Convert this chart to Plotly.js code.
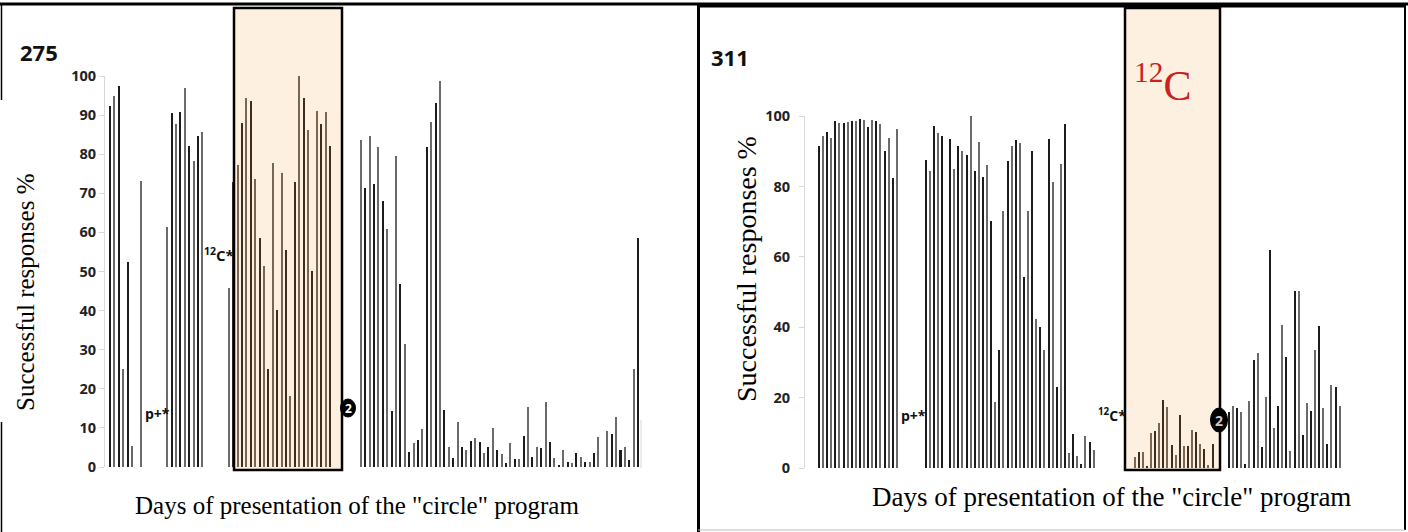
<!DOCTYPE html>
<html><head><meta charset="utf-8">
<script src="https://cdn.plot.ly/plotly-3.0.1.min.js"></script>
<style>html,body{margin:0;padding:0;background:#fff}</style>
</head><body><div id="chart" style="width:1408px;height:532px"></div>
<script>
// Panel "275": one value per day slot (null = no session that day)
const success275 = [
  92.4, 94.8, 97.4, 25, 52.4, 5.4, null, 73.1, null, null, null, null, null,
  61.4, 90.5, 87.7, 90.8, 97.0, 82.1, 78.3, 84.7, 85.8,
  null, null, null, null, null,
  45.7, 72.8, 77.2, 88.1, 94.3, 93.7, 73.7, 58.6, 51.5, 25.1, 77.7, 40.2, 75.2, 55.5, 18.1, 73.0, 100, 94.3, 86.1, 50.2, 91.1, 87.7, 90.9, 82.0,
  null, null, null, null, null, null,
  83.6, 71.4, 84.7, 72.5, 81.8, 68.1, 60.9, 14.4, 79.6, 46.8, 31.5, 3.8, 6.1, 7.0, 9.7, 81.8, 88.3, 93.0, 98.8, 14.7,
  5.0, 2.4, 11.4, 5.2, 4.4, 6.7, 7.4, 6.5, 3.5, 5.2, 9.9, 4.3, 3.2, 0.9, 6.1, 2.0, 2.0, 8.0, 15.4, 2.6, 5.2, 4.8, 16.7,
  6.5, 2.4, 0.5, 4.3, 1.4, 1.0, 3.5, 2.6, 1.2, 1.4, 3.5, 7.8, null, 9.1, 8.4, 12.9, 4.3, 5.2, 1.8, 25, 58.6
];
// Panel "311"
const success311 = [
  91.4, 94.2, 95.6, 93.7, 98.7, 97.9, 97.9, 98.3, 98.5, 98.7, 99.2, 98.9, 97.0, 98.9, 98.6, 97.6, 90.2, 93.8, 82.3, 96.4,
  null, null, null, null, null, null,
  87.6, 84.3, 97.3, 95.1, 94.4,
  null,
  93.4, 84.9, 91.6, 90.0, 88.9, 100, 84.3, 92.7, 82.6, 86.1, 70.3, 18.9, 33.6, 73.1, 87.3, 91.4, 93.1, 92.4, 54.4, 73.1, 90.0,
  42.4, 40.2, 33.6, 93.5, 81.2, 23.0, 86.4, 97.7, 4.3, 9.7, 3.5, 1.2, 9.2, 7.6, 5.2,
  null, null, null, null, null, null, null, null, null,
  3.3, 4.7, 4.7, 0.7, 10.1, 10.7, 13.0, 19.4, 17.5, 6.6, 3.8, 15.1, 6.3, 6.3, 10.9, 10.4, 6.8, 5.4, 0.9, 6.9,
  null, null, null,
  16.0, 17.8, 17.1, 15.9, 1.3, 19.2, 30.8, 32.7, 6.0, 20.1, 61.9, 11.5, 17.8, 40.6, 31.6, 5.0, 50.2, 50.2, 9.5, 18.6,
  16.2, 33.5, 40.3, 17.1, 6.9, 23.7, 23.2, 17.8
];
const yTicks275 = [0, 10, 20, 30, 40, 50, 60, 70, 80, 90, 100];
const yTicks311 = [0, 20, 40, 60, 80, 100];
const panelLabels = ["275", "311"];
const yTitle = "Successful responses %";
const xTitle = 'Days of presentation of the "circle" program';

// highlighted ("12C") day windows, as slot ranges
const box275 = [28, 50];
const box311 = [77, 96];

const W = 1408, H = 532;
const fx = p => p / W;
const fy = p => 1 - p / H;

function colors(vals, box) {
  return vals.map((v, i) => {
    const inBox = i >= box[0] && i <= box[1];
    const odd = i % 2 === 1;
    if (inBox) return odd ? '#7a6650' : '#3b2e1f';
    return odd ? '#6a6a6a' : '#1c1c1c';
  });
}

const traces = [
  {type: 'bar', x: success275.map((_, i) => i), y: success275, xaxis: 'x', yaxis: 'y',
   width: 0.48, marker: {color: colors(success275, box275), line: {width: 0}}, hoverinfo: 'y', cliponaxis: false},
  {type: 'bar', x: success311.map((_, i) => i), y: success311, xaxis: 'x2', yaxis: 'y2',
   width: 0.48, marker: {color: colors(success311, box311), line: {width: 0}}, hoverinfo: 'y', cliponaxis: false}
];

const boldSans = '"Open Sans", "DejaVu Sans", sans-serif';
const serif = '"Liberation Serif", "Times New Roman", serif';
const b = s => '<b>' + s + '</b>';
const tickFont = {family: boldSans, size: 14.5, color: '#222'};
const yCommon = {range: [0, 100], showgrid: false, zeroline: false, showline: true, linecolor: '#d9d9d9', linewidth: 1,
  ticks: 'outside', ticklen: 5, tickcolor: '#d9d9d9', tickfont: tickFont, fixedrange: true};
const xCommon = {showgrid: false, zeroline: false, showline: false, showticklabels: false, ticks: '', fixedrange: true};

function rectPx(x0, y0, x1, y1, extra) {
  return Object.assign({type: 'rect', xref: 'paper', yref: 'paper', x0: fx(x0), x1: fx(x1), y0: fy(y1), y1: fy(y0)}, extra);
}
function linePx(x0, y0, x1, y1, color, width) {
  return {type: 'line', xref: 'paper', yref: 'paper', x0: fx(x0), x1: fx(x1), y0: fy(y0), y1: fy(y1), line: {color: color, width: width}};
}
function circlePx(cx, cy, rx, ry) {
  return {type: 'circle', xref: 'paper', yref: 'paper', x0: fx(cx - rx), x1: fx(cx + rx), y0: fy(cy + ry), y1: fy(cy - ry),
    fillcolor: '#000', line: {color: '#000', width: 1}, layer: 'above'};
}

const shapes = [
  rectPx(234, 8, 342, 470, {fillcolor: '#fdf0e1', line: {width: 0}, layer: 'below'}),
  rectPx(1125, 8, 1220, 470, {fillcolor: '#fdf0e1', line: {width: 0}, layer: 'below'}),
  rectPx(234, 8, 342, 470, {fillcolor: 'rgba(0,0,0,0)', line: {color: '#000', width: 2.5}, layer: 'above'}),
  rectPx(1125, 8, 1220, 470, {fillcolor: 'rgba(0,0,0,0)', line: {color: '#000', width: 2.5}, layer: 'above'}),
  linePx(0, 4, 1408, 4, '#000', 3),
  linePx(700, 6, 1405, 6, '#000', 3),
  linePx(1.5, 4, 1.5, 100, '#000', 1.5),
  linePx(1.5, 422, 1.5, 532, '#000', 1.5),
  linePx(698.5, 4, 698.5, 532, '#000', 3),
  linePx(1405, 4, 1405, 530, '#000', 2),
  linePx(698, 530, 1405, 530, '#bbb', 1),
  linePx(641, 420, 641, 468, '#d9d9d9', 1),
  circlePx(348, 408, 7.5, 9),
  circlePx(1219, 420, 8.5, 12)
];

function ann(text, x, y, font, extra) {
  return Object.assign({text: text, xref: 'paper', yref: 'paper', x: fx(x), y: fy(y), xanchor: 'center', yanchor: 'middle',
    showarrow: false, font: font}, extra || {});
}
const annotations = [
  ann(b(panelLabels[0]), 39, 52, {family: boldSans, size: 22, color: '#111'}),
  ann(b(panelLabels[1]), 730, 57, {family: boldSans, size: 22, color: '#111'}),
  ann(yTitle, 25, 293, {family: serif, size: 25, color: '#000'}, {textangle: -90, bgcolor: '#fff'}),
  ann(yTitle, 746, 269, {family: serif, size: 28, color: '#000'}, {textangle: -90}),
  ann(xTitle, 357, 505, {family: serif, size: 25, color: '#000'}),
  ann(xTitle, 1111, 497, {family: serif, size: 27, color: '#000'}),
  ann('<sup>12</sup>C', 1162, 82, {family: serif, size: 42, color: '#c8231e'}),
  ann(b('p+*'), 157, 413, {family: boldSans, size: 14, color: '#111'}),
  ann(b('p+*'), 913, 415, {family: boldSans, size: 14, color: '#111'}),
  ann(b('<sup>12</sup>C*'), 219, 254, {family: boldSans, size: 15, color: '#111'}),
  ann(b('<sup>12</sup>C*'), 1112, 415, {family: boldSans, size: 14, color: '#111'}),
  ann(b('2'), 348, 408, {family: boldSans, size: 12, color: '#fff'}),
  ann(b('2'), 1219, 420, {family: boldSans, size: 14, color: '#ccc'})
];

const layout = {
  width: W, height: H, margin: {l: 0, r: 0, t: 0, b: 0},
  paper_bgcolor: '#fff', plot_bgcolor: 'rgba(0,0,0,0)', showlegend: false, bargap: 0,
  xaxis: Object.assign({domain: [fx(105), fx(642)], range: [-1.14, 120.9], anchor: 'y'}, xCommon),
  yaxis: Object.assign({domain: [fy(467), fy(76)], tickvals: yTicks275, ticktext: yTicks275.map(v => b(v)), anchor: 'x'}, yCommon),
  xaxis2: Object.assign({domain: [fx(805), fx(1345)], range: [-3.4, 128.3], anchor: 'y2'}, xCommon),
  yaxis2: Object.assign({domain: [fy(468.3), fy(116)], tickvals: yTicks311, ticktext: yTicks311.map(v => b(v)), anchor: 'x2', ticklabelstandoff: 6}, yCommon),
  shapes: shapes, annotations: annotations
};

Plotly.newPlot('chart', traces, layout, {displayModeBar: false, staticPlot: true});
</script>
</body></html>
